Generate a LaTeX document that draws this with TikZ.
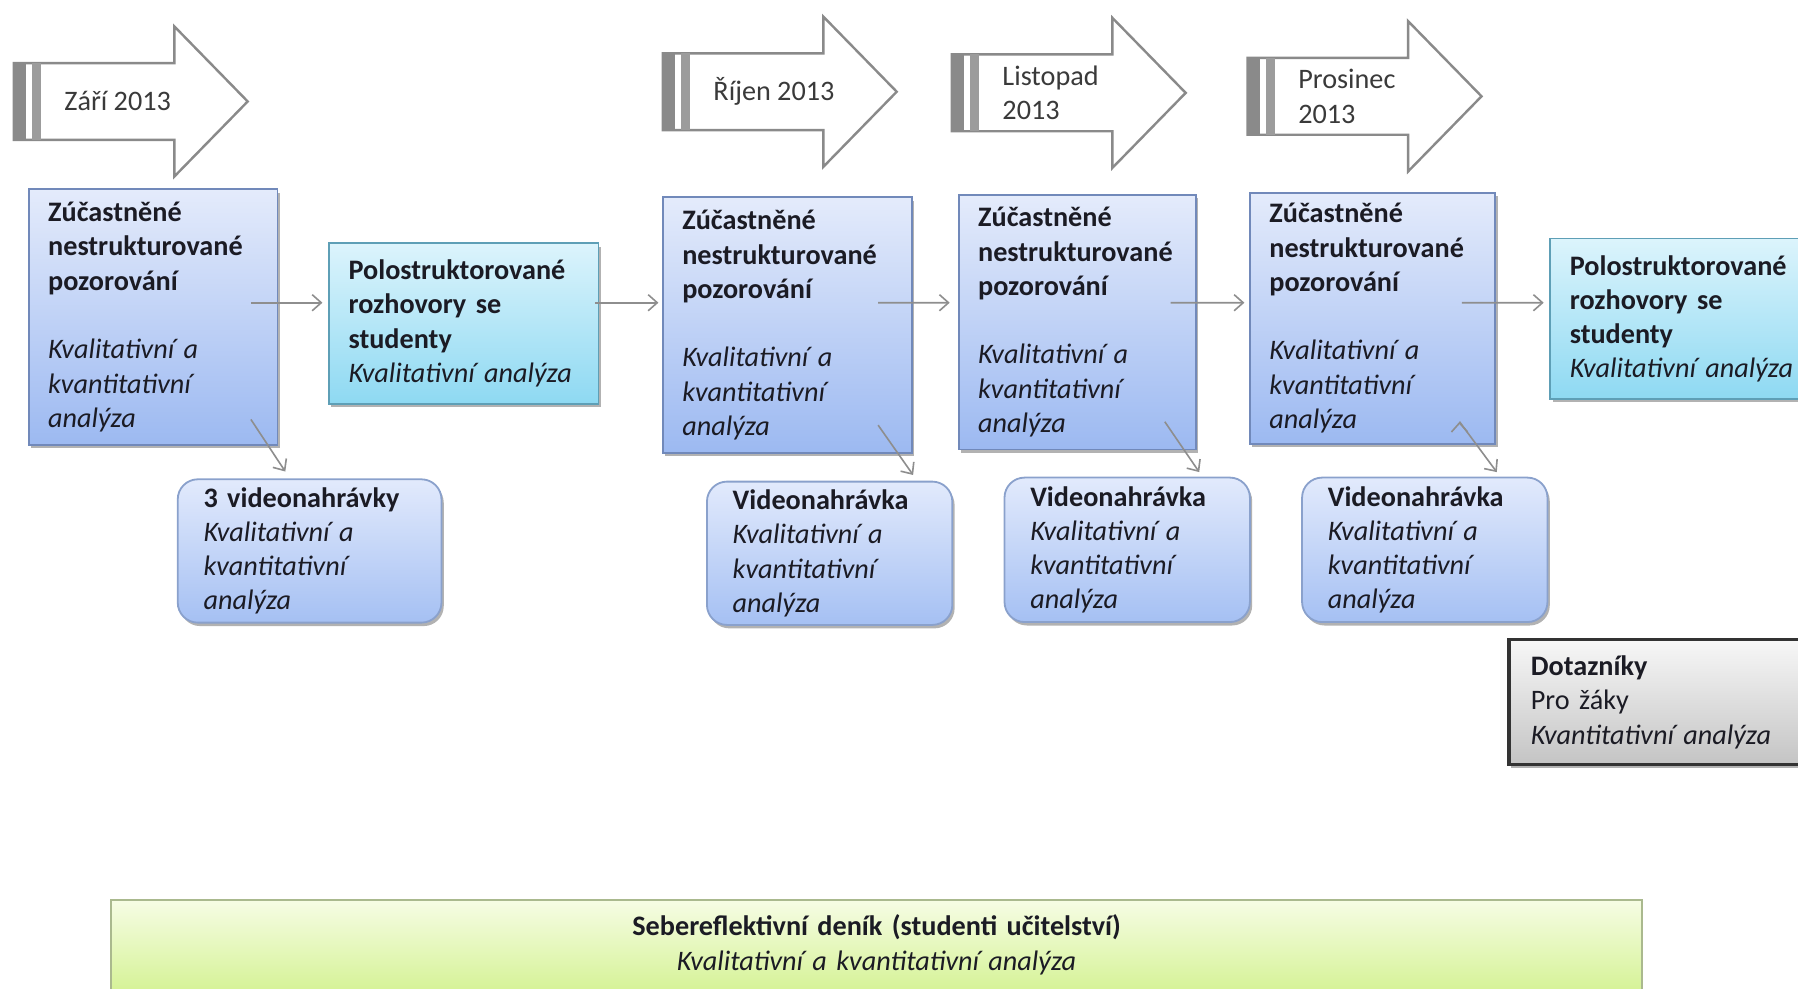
\documentclass[tikz,border=0pt]{standalone}
\usepackage{fontspec}
\setmainfont{Carlito}
\usetikzlibrary{arrows.meta,shadows}
\definecolor{txt}{HTML}{1B1B24}
\definecolor{mtxt}{HTML}{3A3A3A}
\definecolor{zTop}{HTML}{E4EBFB}
\definecolor{zBot}{HTML}{9CB9F1}
\definecolor{zEdge}{HTML}{7189BA}
\definecolor{pTop}{HTML}{DCF4FC}
\definecolor{pBot}{HTML}{8ED9F2}
\definecolor{pEdge}{HTML}{5E9FB6}
\definecolor{vTop}{HTML}{E2EAFC}
\definecolor{vBot}{HTML}{A5C0F3}
\definecolor{vEdge}{HTML}{8AA1CC}
\definecolor{dTop}{HTML}{F7F7F7}
\definecolor{dBot}{HTML}{C4C4C4}
\definecolor{gTop}{HTML}{F6FCE4}
\definecolor{gBot}{HTML}{D6F398}
\definecolor{gEdge}{HTML}{AAB98E}
\definecolor{connGray}{HTML}{8E8E8E}
\definecolor{arrGray}{HTML}{8A8A8A}

\begin{document}
\begin{tikzpicture}[
  every node/.style={font=\fontsize{14}{17}\selectfont, text=txt},
  boxshadow/.style={drop shadow={shadow xshift=0.04cm, shadow yshift=-0.06cm, opacity=0.3, fill=black}},
  zbox/.style={draw=zEdge, line width=0.9pt, top color=zTop, bottom color=zBot, boxshadow,
    minimum height=4.46cm, text width=3.66cm, inner xsep=0.34cm, inner ysep=0.1cm, align=left},
  pbox/.style={draw=pEdge, line width=0.9pt, top color=pTop, bottom color=pBot, boxshadow,
    minimum height=2.8cm, text width=4.02cm, inner xsep=0.34cm, inner ysep=0.1cm, align=left},
  vbox/.style={draw=vEdge, line width=0.9pt, top color=vTop, bottom color=vBot, boxshadow,
    rounded corners=0.35cm, minimum height=2.52cm, text width=3.38cm, inner xsep=0.45cm, inner ysep=0.1cm, align=left},
  dbox/.style={draw=black!80, line width=1.6pt, top color=dTop, bottom color=dBot, boxshadow,
    minimum height=2.18cm, text width=4.74cm, inner xsep=0.38cm, inner ysep=0.1cm, align=left},
  gbox/.style={draw=gEdge, line width=0.9pt, top color=gTop, bottom color=gBot,
    minimum height=1.56cm, text width=26.1cm, inner xsep=0.3cm, align=center},
  mesiclabel/.style={anchor=west, align=left, text=mtxt},
  conn/.style={draw=connGray, line width=0.8pt, -{Straight Barb[length=4.5pt,width=8pt]}},
  mesic/.pic={
    \draw[draw=arrGray, line width=1.2pt, fill=white]
      (0,0.67) -- (2.8,0.67) -- (2.8,1.31) -- (4.08,0) -- (2.8,-1.31) -- (2.8,-0.67) -- (0,-0.67) -- cycle;
    \fill[arrGray] (0,-0.67) rectangle (0.22,0.67);
    \fill[arrGray!85] (0.32,-0.67) rectangle (0.48,0.67);
  }
]
\path[use as bounding box] (0,0) rectangle (31.36,17.24);
\clip (0,0) rectangle (31.36,17.24);

% months
\pic at (0.24,15.47) {mesic};
\pic at (11.56,15.64) {mesic};
\pic at (16.60,15.62) {mesic};
\pic at (21.76,15.56) {mesic};
\node[mesiclabel] (m1) at (1.00,15.47) {Září 2013};
\node[mesiclabel] (m2) at (12.32,15.64) {Říjen 2013};
\node[mesiclabel] (m3) at (17.36,15.62) {Listopad\\2013};
\node[mesiclabel] (m4) at (22.52,15.56) {Prosinec\\2013};

% observations
\node[zbox] (Z1) at (2.67,11.71) {\textbf{Zúčastněné\\nestrukturované\\pozorování}\\[17pt]\textit{Kvalitativní a\\kvantitativní\\analýza}};
\node[zbox] (Z2) at (13.73,11.57) {\textbf{Zúčastněné\\nestrukturované\\pozorování}\\[17pt]\textit{Kvalitativní a\\kvantitativní\\analýza}};
\node[zbox, text width=3.46cm, minimum height=4.44cm] (Z3) at (18.79,11.62) {\textbf{Zúčastněné\\nestrukturované\\pozorování}\\[17pt]\textit{Kvalitativní a\\kvantitativní\\analýza}};
\node[zbox, text width=3.60cm, minimum height=4.38cm] (Z4) at (23.94,11.69) {\textbf{Zúčastněné\\nestrukturované\\pozorování}\\[17pt]\textit{Kvalitativní a\\kvantitativní\\analýza}};

% interviews
\node[pbox] (P1) at (8.09,11.60) {\textbf{Polostruktorované\\rozhovory se\\studenty}\\\textit{Kvalitativní analýza}};
\node[pbox] (P2) at (29.39,11.68) {\textbf{Polostruktorované\\rozhovory se\\studenty}\\\textit{Kvalitativní analýza}};

% recordings
\node[vbox, text width=3.70cm, minimum height=2.50cm] (V1) at (5.40,7.63) {\textbf{3 videonahrávky}\\\textit{Kvalitativní a\\kvantitativní\\analýza}};
\node[vbox, minimum height=2.50cm] (V2) at (14.47,7.59) {\textbf{Videonahrávka}\\\textit{Kvalitativní a\\kvantitativní\\analýza}};
\node[vbox] (V3) at (19.66,7.65) {\textbf{Videonahrávka}\\\textit{Kvalitativní a\\kvantitativní\\analýza}};
\node[vbox] (V4) at (24.85,7.65) {\textbf{Videonahrávka}\\\textit{Kvalitativní a\\kvantitativní\\analýza}};

\node[dbox] (D) at (29.07,4.99) {\textbf{Dotazníky}\\Pro žáky\\\textit{Kvantitativní analýza}};

\node[gbox] (G) at (15.29,0.76) {\textbf{Sebereflektivní deník (studenti učitelství)}\\\textit{Kvalitativní a kvantitativní analýza}};

\path[conn]
([xshift=-0.48cm,yshift=0.25cm]Z1.east) edge ([xshift=-0.10cm,yshift=0.36cm]P1.west)
([xshift=-0.08cm,yshift=0.36cm]P1.east) edge ([xshift=-0.06cm,yshift=0.39cm]Z2.west)
([xshift=-0.60cm,yshift=0.39cm]Z2.east) edge ([xshift=-0.14cm,yshift=0.34cm]Z3.west)
([xshift=-0.46cm,yshift=0.34cm]Z3.east) edge ([xshift=-0.08cm,yshift=0.27cm]Z4.west)
([xshift=-0.60cm,yshift=0.27cm]Z4.east) edge ([xshift=-0.10cm,yshift=0.28cm]P2.west)
([shift={(-0.48,0.46)}]Z1.south east) edge ([shift={(-2.74,0.12)}]V1.north east)
([shift={(-0.60,0.50)}]Z2.south east) edge ([shift={(-0.70,0.10)}]V2.north east)
([shift={(-0.56,0.50)}]Z3.south east) edge ([shift={(-0.90,0.08)}]V3.north east)
([shift={(-0.64,0.40)}]Z4.south east) edge ([shift={(-0.90,0.08)}]V4.north east);
\end{tikzpicture}
\end{document}
